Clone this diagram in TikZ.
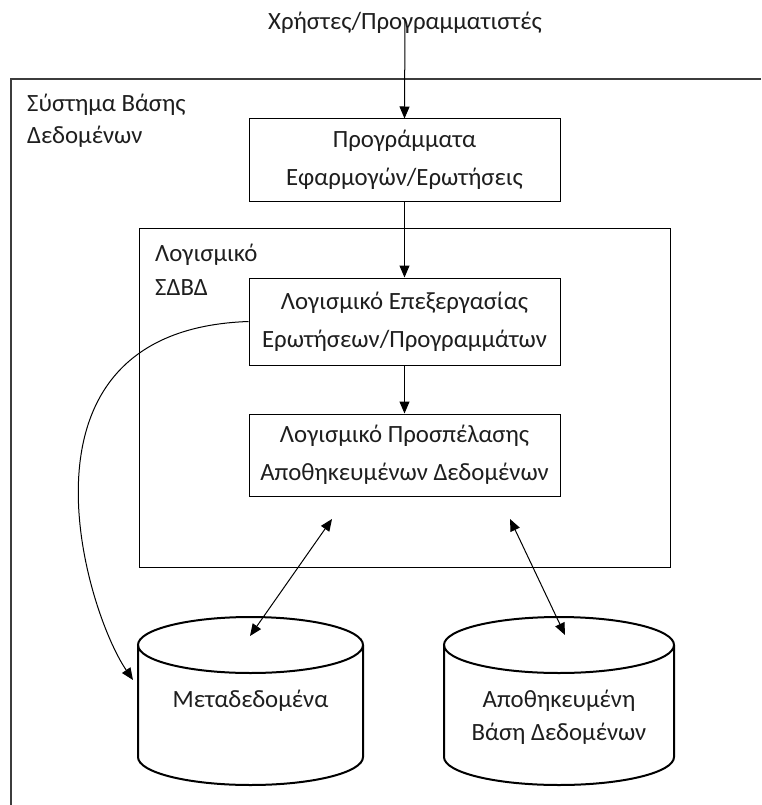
\documentclass[tikz,border=0pt]{standalone}
\usepackage{fontspec}
\setmainfont{Carlito}
\usetikzlibrary{arrows.meta}
\definecolor{ink}{HTML}{1E1E1E}
\definecolor{frame}{HTML}{3C3C3C}
\begin{document}
\begin{tikzpicture}[x=1pt,y=-1pt,
  txt/.style={font=\fontsize{24.8}{38}\selectfont, text=ink, inner sep=0pt},
  procbox/.style={txt, draw=black, line width=1pt, align=center,
    minimum width=311pt, minimum height=82pt},
  conn/.style={draw=black, line width=1pt, -{Triangle[length=12pt,width=10pt]}},
  bothconn/.style={draw=black, line width=1pt,
    {Triangle[length=12pt,width=10pt]}-{Triangle[length=12pt,width=10pt]}},
  cyl/.style={draw=black, line width=2pt},
]
\useasboundingbox (0,0) rectangle (761,805);

% outer system frame (continues past the right and bottom edges)
\draw[frame, line width=1.3pt] (761,79) -- (11,79) -- (11,805);
\node[txt, anchor=base west] (sysA) at (27,112) {Σύστημα Βάσης};
\node[txt, anchor=base west] (sysB) at (27,144) {Δεδομένων};

% users
\node[txt] (users) at (405,23) {Χρήστες/Προγραμματιστές};

% application programs / queries
\node[procbox] (apps) at (404.5,160) {Προγράμματα\\Εφαρμογών/Ερωτήσεις};

% DBMS software frame
\node[draw=black, line width=1pt, minimum width=531pt, minimum height=339pt,
  inner sep=0pt] (dbms) at (404.5,397.5) {};
\node[txt, anchor=base west] (dbmsA) at (155,261) {Λογισμικό};
\node[txt, anchor=base west] (dbmsB) at (155,295) {ΣΔΒΔ};

\node[procbox, minimum height=87pt] (query) at (404.5,321.5)
  {Λογισμικό Επεξεργασίας\\Ερωτήσεων/Προγραμμάτων};
\node[procbox] (access) at (404.5,455)
  {Λογισμικό Προσπέλασης\\Αποθηκευμένων Δεδομένων};

% storage cylinders
\foreach \cx/\rx in {250.5/112.5, 559/115}{
  \draw[cyl] (\cx-\rx,645) -- (\cx-\rx,757)
    arc[start angle=180, end angle=0, x radius=\rx, y radius=28]
    -- (\cx+\rx,645);
  \draw[cyl] (\cx,645) ellipse[x radius=\rx, y radius=28];
}
\node[txt] (meta) at (250.5,701) {Μεταδεδομένα};
\node[txt, align=center, font=\fontsize{24.8}{33}\selectfont] (stored) at (559,717)
  {Αποθηκευμένη\\Βάση Δεδομένων};

% connector end points
\coordinate (accL) at (332,519);
\coordinate (accR) at (510,519);
\coordinate (metaTop) at (250,636);
\coordinate (storedTop) at (565,635);
\coordinate (metaSide) at (133,680);

% connectors
\draw[conn] ([yshift=15pt]users.south) -- (apps.north);
\draw[conn] (apps.south) -- (query.north);
\draw[conn] (query.south) -- (access.north);
\draw[bothconn] (accL) -- (metaTop);
\draw[bothconn] (accR) -- (storedTop);
\draw[conn] (query.west) .. controls (0,330) and (85,610) .. (metaSide);
\end{tikzpicture}
\end{document}
